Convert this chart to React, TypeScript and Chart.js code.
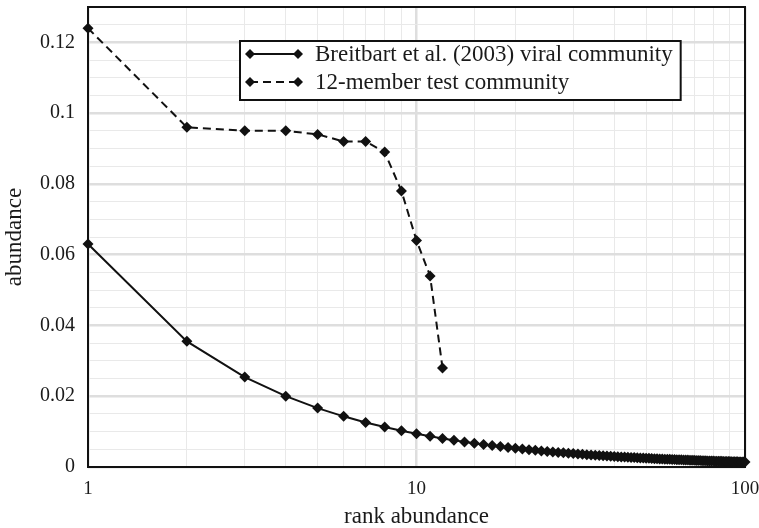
import React, { useEffect, useRef } from "react";
import { Chart, registerables } from "chart.js";

Chart.register(...registerables);

const seriesLabels = ["Breitbart et al. (2003) viral community", "12-member test community"];

const breitbartValues = [
  0.0630, 0.03551, 0.02540, 0.02002, 0.01665, 0.01432, 0.01260, 0.01129, 0.01024, 0.00938,
  0.00867, 0.00807, 0.00755, 0.00710, 0.00671, 0.00636, 0.00605, 0.00577, 0.00552, 0.00529,
  0.00508, 0.00489, 0.00471, 0.00455, 0.00440, 0.00426, 0.00413, 0.00400, 0.00389, 0.00378,
  0.00368, 0.00358, 0.00349, 0.00341, 0.00333, 0.00325, 0.00318, 0.00311, 0.00304, 0.00298,
  0.00292, 0.00286, 0.00281, 0.00276, 0.00271, 0.00266, 0.00261, 0.00257, 0.00252, 0.00248,
  0.00244, 0.00240, 0.00236, 0.00233, 0.00229, 0.00226, 0.00222, 0.00219, 0.00216, 0.00213,
  0.00210, 0.00207, 0.00205, 0.00202, 0.00200, 0.00197, 0.00195, 0.00192, 0.00190, 0.00188,
  0.00185, 0.00183, 0.00181, 0.00179, 0.00177, 0.00175, 0.00173, 0.00172, 0.00170, 0.00168,
  0.00166, 0.00165, 0.00163, 0.00161, 0.00160, 0.00158, 0.00157, 0.00155, 0.00154, 0.00153,
  0.00151, 0.00150, 0.00149, 0.00147, 0.00146, 0.00144, 0.00143, 0.00142, 0.00141, 0.00140,
];

const testValues = [0.124, 0.096, 0.095, 0.095, 0.094, 0.092, 0.092, 0.089, 0.078, 0.064, 0.054, 0.028];

const xTickLabels = ["1", "10", "100"];
const yTickLabels = ["0", "0.02", "0.04", "0.06", "0.08", "0.1", "0.12"];

const FONT = "'Liberation Serif', 'Times New Roman', serif";
const TEXT = "#1a1a1a";

function drawDiamond(ctx: CanvasRenderingContext2D, x: number, y: number, r: number) {
  ctx.beginPath();
  ctx.moveTo(x, y - r);
  ctx.lineTo(x + r, y);
  ctx.lineTo(x, y + r);
  ctx.lineTo(x - r, y);
  ctx.closePath();
  ctx.fill();
}

const framePlugin = {
  id: "frame",
  beforeDatasetsDraw(chart: any) {
    const { ctx, chartArea: a } = chart;
    ctx.save();
    ctx.strokeStyle = "#111";
    ctx.lineWidth = 2;
    ctx.strokeRect(a.left, a.top, a.right - a.left, a.bottom - a.top);
    ctx.restore();
  },
};

const legendPlugin = {
  id: "boxLegend",
  afterDraw(chart: any) {
    const ctx: CanvasRenderingContext2D = chart.ctx;
    const x0 = 240;
    const y0 = 41;
    const h = 59;
    const rows = [54, 82];
    ctx.save();
    ctx.font = `23px ${FONT}`;
    let maxW = 0;
    chart.data.datasets.forEach((d: any) => {
      maxW = Math.max(maxW, ctx.measureText(d.label).width);
    });
    const textX = 315;
    const w = textX + maxW + 8 - x0;
    ctx.fillStyle = "#fff";
    ctx.fillRect(x0, y0, w, h);
    ctx.strokeStyle = "#111";
    ctx.lineWidth = 2;
    ctx.strokeRect(x0, y0, w, h);
    chart.data.datasets.forEach((d: any, i: number) => {
      const y = rows[i];
      ctx.strokeStyle = "#111";
      ctx.lineWidth = 2;
      ctx.setLineDash(d.borderDash || []);
      ctx.beginPath();
      ctx.moveTo(250, y);
      ctx.lineTo(298, y);
      ctx.stroke();
      ctx.setLineDash([]);
      ctx.fillStyle = "#111";
      drawDiamond(ctx, 250, y, 5);
      drawDiamond(ctx, 298, y, 5);
      ctx.fillStyle = TEXT;
      ctx.textBaseline = "middle";
      ctx.textAlign = "left";
      ctx.fillText(d.label, textX, y + 1);
    });
    ctx.restore();
  },
};

export default function App() {
  const ref = useRef<HTMLCanvasElement>(null);
  useEffect(() => {
    document.body.style.margin = "0";
    const canvas = ref.current!;
    const chart = new Chart(canvas, {
      type: "line",
      data: {
        datasets: [
          {
            label: seriesLabels[0],
            data: breitbartValues.map((v, i) => ({ x: i + 1, y: v })),
            borderColor: "#111",
            backgroundColor: "#111",
            borderWidth: 2,
            pointStyle: "rectRot",
            pointRadius: 5.5,
            pointBorderWidth: 0,
            tension: 0,
            clip: false as any,
          },
          {
            label: seriesLabels[1],
            data: testValues.map((v, i) => ({ x: i + 1, y: v })),
            borderColor: "#111",
            backgroundColor: "#111",
            borderWidth: 2,
            borderDash: [8, 5],
            pointStyle: "rectRot",
            pointRadius: 5.5,
            pointBorderWidth: 0,
            tension: 0,
            clip: false as any,
          },
        ],
      },
      options: {
        responsive: false,
        animation: false,
        layout: { padding: { top: 7, right: 14, left: 0, bottom: 0 } },
        plugins: { legend: { display: false }, tooltip: { enabled: false } },
        scales: {
          x: {
            type: "logarithmic",
            min: 1,
            max: 100,
            afterFit(scale: any) {
              scale.height = 61;
              scale.paddingLeft = 0;
              scale.paddingRight = 0;
            },
            border: { display: false },
            grid: {
              drawTicks: false,
              color: (c: any) => {
                const v = c.tick ? c.tick.value : 0;
                const lg = Math.log10(v);
                return Math.abs(lg - Math.round(lg)) < 1e-6 ? "#dedede" : "#e9e9e9";
              },
              lineWidth: (c: any) => {
                const v = c.tick ? c.tick.value : 0;
                const lg = Math.log10(v);
                return Math.abs(lg - Math.round(lg)) < 1e-6 ? 2.5 : 1;
              },
            },
            ticks: {
              autoSkip: false,
              maxRotation: 0,
              padding: 11,
              color: TEXT,
              font: { family: FONT, size: 19 },
              callback: (v: any) => {
                const s = String(Number(v));
                return xTickLabels.includes(s) ? s : "";
              },
            },
            title: {
              display: true,
              text: "rank abundance",
              color: TEXT,
              font: { family: FONT, size: 23, lineHeight: 1 },
              padding: { top: 0, bottom: 0 },
            },
          },
          y: {
            min: 0,
            max: 0.13,
            afterFit(scale: any) {
              scale.width = 88;
              scale.paddingTop = 0;
              scale.paddingBottom = 0;
            },
            border: { display: false },
            grid: {
              drawTicks: false,
              color: (c: any) => {
                const v = c.tick ? c.tick.value : 0;
                const major = Math.abs(v / 0.02 - Math.round(v / 0.02)) < 1e-6;
                return major ? "#dedede" : "#e9e9e9";
              },
              lineWidth: (c: any) => {
                const v = c.tick ? c.tick.value : 0;
                const major = Math.abs(v / 0.02 - Math.round(v / 0.02)) < 1e-6;
                return major ? 2.5 : 1;
              },
            },
            ticks: {
              stepSize: 0.005,
              autoSkip: false,
              padding: 13,
              color: TEXT,
              font: { family: FONT, size: 20 },
              callback: (v: any) => {
                const n = Number(v);
                const idx = Math.round(n / 0.02);
                if (Math.abs(n / 0.02 - idx) < 1e-6 && idx < yTickLabels.length) return yTickLabels[idx];
                return "";
              },
            },
            title: {
              display: true,
              text: "abundance",
              color: TEXT,
              font: { family: FONT, size: 23, lineHeight: 1 },
              padding: { top: 3, bottom: 0 },
            },
          },
        },
      },
      plugins: [framePlugin, legendPlugin],
    });
    return () => chart.destroy();
  }, []);
  return <canvas ref={ref} width={759} height={528} style={{ display: "block" }} />;
}
